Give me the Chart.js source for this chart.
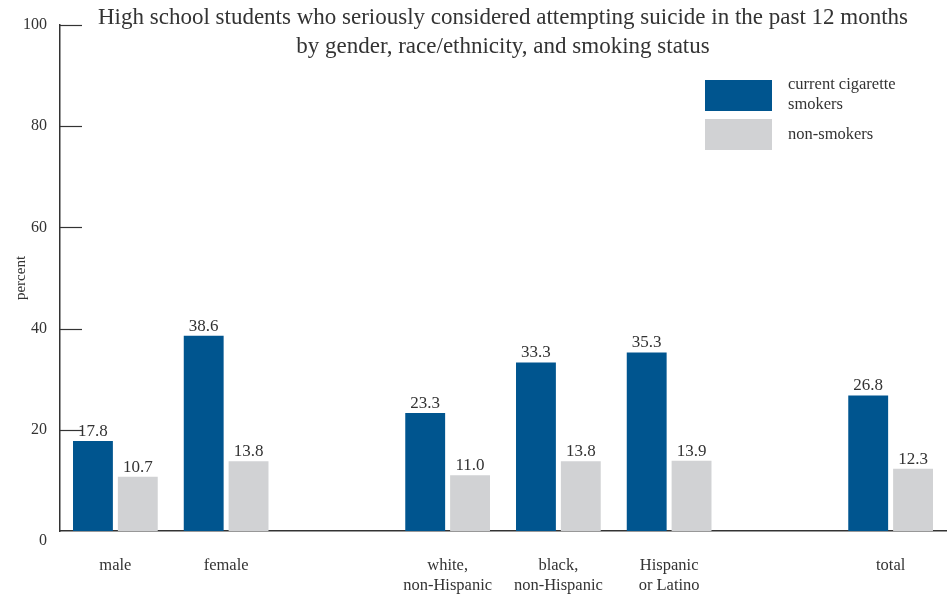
<!DOCTYPE html>
<html>
<head>
<meta charset="utf-8">
<script src="https://cdn.jsdelivr.net/npm/chart.js@4.4.0/dist/chart.umd.min.js"></script>
<style>
  html, body { margin: 0; padding: 0; background: #fff; }
  #wrap { width: 952px; height: 596px; }
</style>
</head>
<body>
<div id="wrap"><canvas id="chart" width="952" height="596"></canvas></div>
<script>
// categories (empty ones are the gaps between groups)
let categories = ['male', 'female', '', ['white,', 'non-Hispanic'], ['black,', 'non-Hispanic'], ['Hispanic', 'or Latino'], '', 'total'];
let smokers = [17.8, 38.6, null, 23.3, 33.3, 35.3, null, 26.8];
let nonSmokers = [10.7, 13.8, null, 11.0, 13.8, 13.9, null, 12.3];
let seriesNames = [['current cigarette', 'smokers'], ['non-smokers']];
let yTicks = [0, 20, 40, 60, 80, 100];
let titleLines = ['High school students who seriously considered attempting suicide in the past 12 months',
                  'by gender, race/ethnicity, and smoking status'];

const serif = "'Liberation Serif', 'Times New Roman', serif";
const ink = '#333333';
const blue = '#00558f';
const grey = '#d1d2d4';

// title, legend, inner tick marks, the zero label and value labels
const extras = {
  id: 'extras',
  afterDraw(chart) {
    const ctx = chart.ctx;
    const area = chart.chartArea;
    const y = chart.scales.y;
    ctx.save();

    // title
    ctx.fillStyle = ink;
    ctx.font = '23px ' + serif;
    ctx.textAlign = 'center';
    ctx.textBaseline = 'middle';
    const cx = (area.left + area.right) / 2;
    ctx.fillText(titleLines[0], cx, 18);
    ctx.fillText(titleLines[1], cx, 47);

    // tick marks pointing into the plot
    ctx.strokeStyle = ink;
    ctx.lineWidth = 1.2;
    yTicks.forEach(v => {
      if (v === 0) return;
      const py = Math.round(y.getPixelForValue(v)) + 0.5;
      ctx.beginPath();
      ctx.moveTo(area.left, py);
      ctx.lineTo(area.left + 22, py);
      ctx.stroke();
    });

    // zero label sits a bit below the baseline
    ctx.font = '16px ' + serif;
    ctx.textAlign = 'right';
    ctx.fillText('0', area.left - 13, y.getPixelForValue(0) + 10);

    // value labels
    ctx.font = '17px ' + serif;
    ctx.textAlign = 'center';
    ctx.textBaseline = 'bottom';
    chart.data.datasets.forEach((ds, i) => {
      const meta = chart.getDatasetMeta(i);
      meta.data.forEach((el, j) => {
        const v = ds.data[j];
        if (v == null) return;
        ctx.fillText(v.toFixed(1), el.x, el.y - 1);
      });
    });

    // legend
    const lx = 705, ly = 80, bw = 67, bh = 31, step = 39;
    ctx.font = '16.5px ' + serif;
    ctx.textAlign = 'left';
    ctx.textBaseline = 'middle';
    chart.data.datasets.forEach((ds, i) => {
      const top = ly + i * step;
      ctx.fillStyle = ds.backgroundColor;
      ctx.fillRect(lx, top, bw, bh);
      ctx.fillStyle = ink;
      const lines = seriesNames[i];
      if (lines.length === 1) {
        ctx.fillText(lines[0], lx + 83, top + 16);
      } else {
        lines.forEach((t, k) => ctx.fillText(t, lx + 83, top + 5 + k * 20));
      }
    });
    ctx.restore();
  }
};

new Chart(document.getElementById('chart').getContext('2d'), {
  type: 'bar',
  data: {
    labels: categories,
    datasets: [
      { label: 'current cigarette smokers', data: smokers, backgroundColor: blue },
      { label: 'non-smokers', data: nonSmokers, backgroundColor: grey }
    ]
  },
  options: {
    responsive: false,
    animation: false,
    devicePixelRatio: 1,
    categoryPercentage: 0.81,
    barPercentage: 0.889,
    layout: { padding: { top: 25, right: 6, left: 0, bottom: 0 } },
    plugins: {
      legend: { display: false },
      title: { display: false },
      tooltip: { enabled: false }
    },
    scales: {
      x: {
        grid: { display: false, drawTicks: false },
        border: { display: true, color: ink, width: 1.5 },
        ticks: { color: ink, font: { family: serif, size: 16.5 }, padding: 25, maxRotation: 0, autoSkip: false },
        afterFit(s) { s.height = 65; }
      },
      y: {
        min: 0,
        max: 100,
        grid: { display: false, drawTicks: false },
        border: { display: true, color: ink, width: 1.5 },
        ticks: {
          color: ink, font: { family: serif, size: 16 }, stepSize: 20, padding: 13,
          callback: v => (v === 0 ? '' : v)
        },
        title: { display: true, text: 'percent', color: ink, font: { family: serif, size: 15 }, padding: { top: 12, bottom: 0 } },
        afterFit(s) { s.width = 60; }
      }
    }
  },
  plugins: [extras]
});
</script>
</body>
</html>
